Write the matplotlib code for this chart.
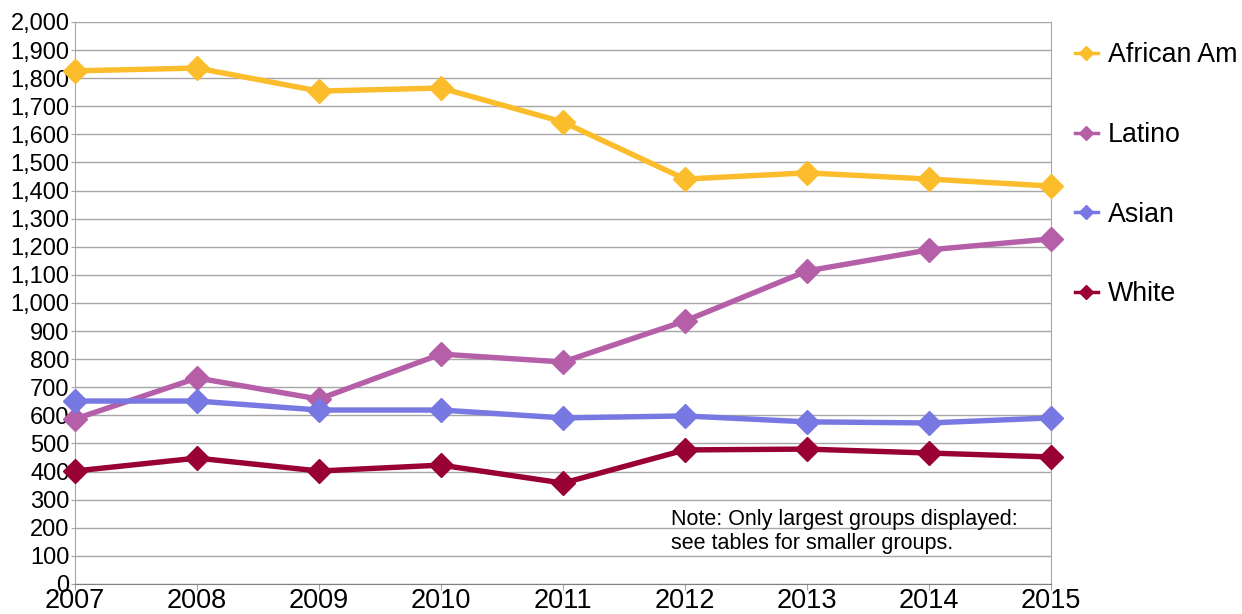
import matplotlib
matplotlib.use("Agg")
import matplotlib.pyplot as plt
from matplotlib.lines import Line2D
from matplotlib.ticker import FuncFormatter

years = [2007, 2008, 2009, 2010, 2011, 2012, 2013, 2014, 2015]
african_am = [1826, 1836, 1754, 1765, 1644, 1441, 1463, 1441, 1416]
latino = [587, 733, 658, 818, 790, 936, 1114, 1189, 1228]
asian = [651, 651, 619, 619, 591, 598, 577, 573, 591]
white = [402, 448, 402, 423, 359, 477, 480, 466, 452]

series = [
    ("African Am", african_am, "#fbbd2b"),
    ("Latino", latino, "#b65fa9"),
    ("Asian", asian, "#7878e2"),
    ("White", white, "#990033"),
]

plt.rcParams["font.family"] = ["Liberation Sans", "DejaVu Sans"]

fig = plt.figure(figsize=(12.42, 6.14), dpi=100)
ax = fig.add_axes([0.0604, 0.0489, 0.7858, 0.9153])

for name, vals, col in series:
    ax.plot(years, vals, "-D", color=col, lw=3.9, ms=12, clip_on=False, zorder=3)

ax.set_xlim(2007, 2015)
ax.set_ylim(0, 2000)
ax.set_yticks(range(0, 2001, 100))
ax.yaxis.set_major_formatter(FuncFormatter(lambda v, p: f"{int(v):,}"))
ax.set_xticks(years)
ax.grid(axis="y", color="#a6a6a6", lw=1)
ax.set_axisbelow(True)
ax.spines["top"].set_visible(False)
for s in ["left", "right"]:
    ax.spines[s].set_color("#a6a6a6")
ax.spines["bottom"].set_color("#808080")
ax.tick_params(axis="y", labelsize=17, length=3, color="#a6a6a6", pad=1)
ax.tick_params(axis="x", labelsize=19.5, length=4, color="#a6a6a6", pad=-1)

handles = [Line2D([], [], color=col, lw=2.5, marker="D", ms=7) for _, _, col in series]
labels = [name for name, _, _ in series]
fig.legend(handles, labels, loc="upper left", bbox_to_anchor=(0.8655, 0.931),
           frameon=False, fontsize=19.3, handlelength=0.85, handletextpad=0.37,
           labelspacing=2.0, borderaxespad=0, borderpad=0)

ax.text(0.611, 0.133, "Note: Only largest groups displayed:\nsee tables for smaller groups.",
        transform=ax.transAxes, fontsize=15.5, va="top", ha="left", linespacing=1.15)

fig.savefig("out.png", dpi=100)
